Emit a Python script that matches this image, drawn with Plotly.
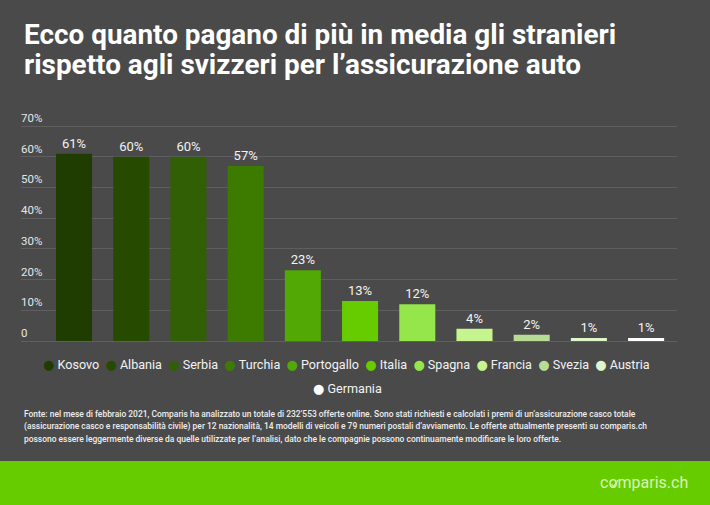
import plotly.graph_objects as go

paesi = ["Kosovo", "Albania", "Serbia", "Turchia", "Portogallo", "Italia", "Spagna", "Francia", "Svezia", "Austria", "Germania"]
valori = [61, 60, 60, 57, 23, 13, 12, 4, 2, 1, 1]
colori = ["#1f3d00", "#264a00", "#315f05", "#3d7a00", "#52a805", "#66cc00", "#94e64a", "#c6f58f", "#b8dc96", "#dff5cc", "#ffffff"]
tick_val = [0, 10, 20, 30, 40, 50, 60, 70]
tick_txt = ["0", "10%", "20%", "30%", "40%", "50%", "60%", "70%"]

titolo = ["Ecco quanto pagano di più in media gli stranieri",
          "rispetto agli svizzeri per l’assicurazione auto"]
fonte = ["Fonte: nel mese di febbraio 2021, Comparis ha analizzato un totale di 232’553 offerte online. Sono stati richiesti e calcolati i premi di un’assicurazione casco totale",
         "(assicurazione casco e responsabilità civile) per 12 nazionalità, 14 modelli di veicoli e 79 numeri postali d’avviamento. Le offerte attualmente presenti su comparis.ch",
         "possono essere leggermente diverse da quelle utilizzate per l’analisi, dato che le compagnie possono continuamente modificare le loro offerte."]

W, H = 710, 505
FONT = "Roboto"
# plot area in page pixels
L, R, T, B = 21, 677, 110, 341


def px_x(p):
    return (p - L) / (R - L)


def px_y(p):
    return (B - p) / (B - T)


def legend_row(nomi):
    # plotly's own legend can't get this tight, so the keys are coloured glyphs in one centred line
    parti = []
    for n in nomi:
        col = colori[paesi.index(n)]
        parti.append('<span style="color:%s;font-family:DejaVu Sans;font-size:13px">●</span>\u00a0%s' % (col, n))
    return "\u00a0\u00a0".join(parti)


fig = go.Figure()
fig.add_trace(go.Bar(x=paesi, y=valori, width=0.63, marker=dict(color=colori, line_width=0),
                     text=[str(v) + "%" for v in valori], textposition="outside", cliponaxis=False,
                     textfont=dict(color="#f2f2f2", size=13, family=FONT), showlegend=False))

# little tick inside the o of the logo
spunta = "M %f %f L %f %f L %f %f" % (px_x(611.5), px_y(484), px_x(613.5), px_y(486.5), px_x(618), px_y(480))

fig.update_layout(
    width=W, height=H, autosize=False,
    margin=dict(l=L, r=W - R, t=T, b=H - B, pad=0),
    paper_bgcolor="#4a4a4a", plot_bgcolor="rgba(0,0,0,0)",
    font=dict(family=FONT, color="#f2f2f2"),
    showlegend=False,
    xaxis=dict(type="category", categoryorder="array", categoryarray=paesi, range=[-0.927, 10.54],
               showticklabels=False, showgrid=False, zeroline=False, ticks="",
               showline=True, linecolor="#5f5f5f", linewidth=1),
    yaxis=dict(range=[0, 70 * (B - T) / 215], tickvals=tick_val, ticktext=tick_txt, ticklabelposition="inside top",
               ticklabelstandoff=-3, tickfont=dict(size=11.5, color="#e6e6e6", family=FONT), showgrid=True,
               gridcolor="#5f5f5f", gridwidth=1, zeroline=False, ticks=""),
    shapes=[dict(type="rect", xref="paper", yref="paper", layer="below", line_width=0,
                 fillcolor="#66cc00", x0=px_x(0), x1=px_x(W), y0=px_y(H), y1=px_y(461)),
            dict(type="path", xref="paper", yref="paper", path=spunta, line=dict(color="#d9f5b8", width=1.2))],
)

for i, riga in enumerate(titolo):
    fig.add_annotation(text=riga, xref="paper", yref="paper", x=px_x(22), y=px_y(34 + i * 30), xanchor="left", yanchor="middle",
                       showarrow=False, font=dict(size=27.9, color="#ffffff", family=FONT, weight=700))
for i, riga in enumerate(fonte):
    fig.add_annotation(text=riga, xref="paper", yref="paper", x=px_x(22), y=px_y(414 + i * 12.4), xanchor="left", yanchor="middle",
                       showarrow=False, font=dict(size=8.45, color="#eeeeee", family=FONT, weight=500))

fig.add_annotation(text=legend_row(paesi[:10]), xref="paper", yref="paper", x=px_x(346), y=px_y(364), xanchor="center", yanchor="middle",
                   showarrow=False, font=dict(size=12.6, color="#f2f2f2", family=FONT))
fig.add_annotation(text=legend_row(paesi[10:]), xref="paper", yref="paper", x=px_x(347), y=px_y(388), xanchor="center", yanchor="middle",
                   showarrow=False, font=dict(size=12.6, color="#f2f2f2", family=FONT))
fig.add_annotation(text="comparis.ch", xref="paper", yref="paper", x=px_x(690), y=px_y(483), xanchor="right", yanchor="middle",
                   showarrow=False, font=dict(size=16, color="#d9f5b8", family=FONT))

fig.write_html("out.html", config=dict(displayModeBar=False), post_script="document.body.style.margin='0';")
